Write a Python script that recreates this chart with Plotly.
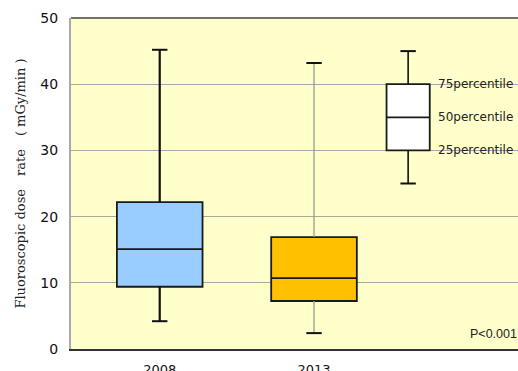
import plotly.graph_objects as go

# Fluoroscopic dose rate summary statistics (mGy/min)
years = ["2008", "2013"]
year_pos = [1.0, 2.0]
lower_whisker = [4.2, 2.4]
q1 = [9.4, 7.25]
median = [15.1, 10.7]
q3 = [22.2, 16.9]
upper_whisker = [45.2, 43.2]
box_colors = ["#99CCFF", "#FFC000"]
whisker_colors = ["#111111", "#9a9a8a"]
whisker_widths = [2.2, 1.3]

# Key box explaining the percentile markers
key_pos = 2.61
key_stats = [25, 30, 35, 40, 45]
key_labels = ["75percentile", "50percentile", "25percentile"]

tick_vals = [0, 10, 20, 30, 40, 50]

fig = go.Figure()

def add_box(x, lo, a, m, b, hi, fill, wcolor, wwidth, width, cap):
    # whiskers
    fig.add_trace(go.Scatter(
        x=[x, x, None, x, x], y=[lo, a, None, b, hi], mode="lines",
        line=dict(color=wcolor, width=wwidth), hoverinfo="skip", showlegend=False))
    fig.add_trace(go.Scatter(
        x=[x, x], y=[lo, hi], mode="markers",
        marker=dict(symbol="line-ew", size=cap, line=dict(color="#111111", width=2)),
        hoverinfo="skip", showlegend=False))
    # box body
    fig.add_trace(go.Box(
        x=[x], q1=[a], median=[m], q3=[b], lowerfence=[a], upperfence=[b],
        width=width, fillcolor=fill, line=dict(color="#1a1a1a", width=1.8),
        whiskerwidth=0, showlegend=False, hoverinfo="skip"))

for i in range(len(years)):
    add_box(year_pos[i], lower_whisker[i], q1[i], median[i], q3[i], upper_whisker[i],
            box_colors[i], whisker_colors[i], whisker_widths[i], 0.555, 11)

add_box(key_pos, key_stats[0], key_stats[1], key_stats[2], key_stats[3], key_stats[4],
        "#FFFFFF", "#111111", 1.6, 0.28, 11)

for lab, yv in zip(key_labels, [key_stats[3], key_stats[2], key_stats[1]]):
    fig.add_annotation(x=key_pos + 0.18, y=yv, text=lab, showarrow=False,
                       xanchor="left", yanchor="middle",
                       font=dict(family="DejaVu Sans", size=12, color="#222222"))

fig.add_annotation(x=3.0, y=2.3, text="P<0.001", showarrow=False,
                   xanchor="left", yanchor="middle",
                   font=dict(family="Liberation Sans", size=12.5, color="#222222"))

fig.update_layout(
    width=518, height=371,
    margin=dict(l=71, r=0, t=18, b=22),
    paper_bgcolor="#FFFFFF",
    plot_bgcolor="#FFFFCC",
    showlegend=False,
    xaxis=dict(range=[0.425, 3.322], tickvals=year_pos, ticktext=years,
               showgrid=False, zeroline=False, showline=True,
               linecolor="#333333", linewidth=1.5, mirror=False,
               ticks="", ticklabelstandoff=8, automargin=False,
               tickfont=dict(family="DejaVu Sans", size=13, color="#111111")),
    yaxis=dict(range=[0, 50], tickvals=tick_vals, showgrid=True,
               gridcolor="#A8A8A0", gridwidth=1, zeroline=False,
               showline=True, linecolor="#AAAAAA", linewidth=2, ticks="",
               ticklabelstandoff=8, automargin=False,
               tickfont=dict(family="DejaVu Sans", size=14, color="#111111"),
               title=dict(text="Fluoroscopic dose\u3000rate\u3000( mGy/min )",
                          font=dict(family="DejaVu Serif", size=13, color="#222222"),
                          standoff=12)),
)
fig.add_shape(type="line", xref="paper", yref="paper", x0=0, x1=1, y0=1, y1=1,
              line=dict(color="#444444", width=1.5))

fig.write_html("out.html")
